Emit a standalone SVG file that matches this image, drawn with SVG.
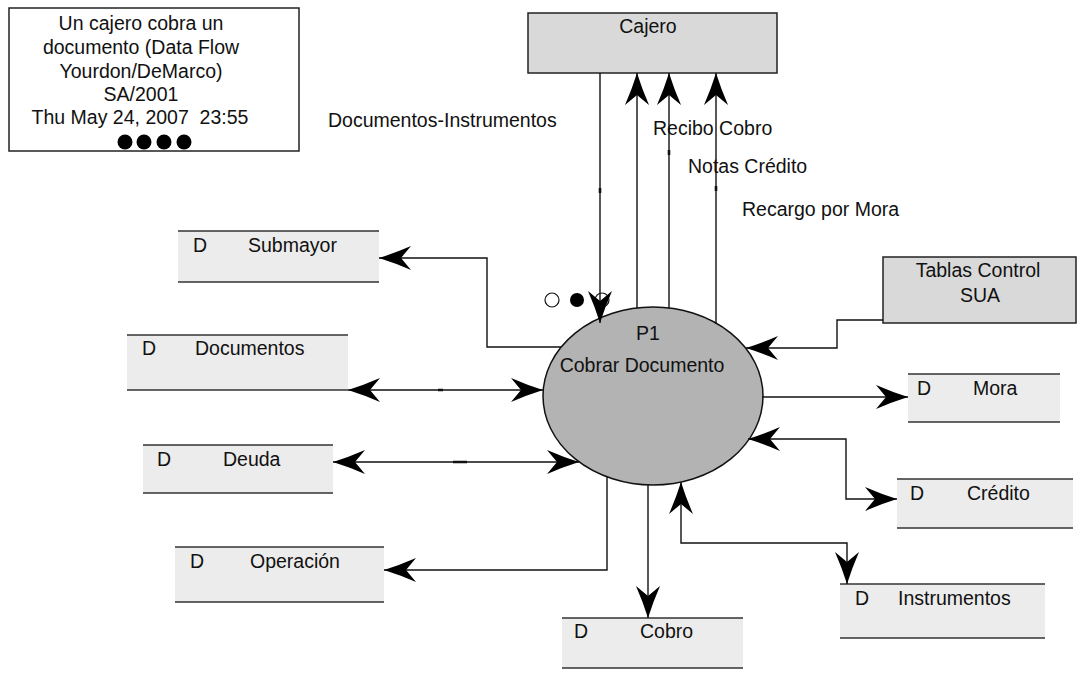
<svg xmlns="http://www.w3.org/2000/svg" width="1081" height="673" viewBox="0 0 1081 673">
  <style>
    text { font-family: "Liberation Sans", Arial, sans-serif; font-size: 19.5px; fill: #111; }
    .title { text-anchor: middle; }
    .mid { text-anchor: middle; }
    .store-fill { fill: #ececec; stroke: none; }
    .store-line { stroke: #333; stroke-width: 1.5; fill: none; }
    .entity { fill: #d9d9d9; stroke: #222; stroke-width: 1.5; }
    .flow { fill: none; stroke: #111; stroke-width: 1.4; marker-end: url(#arrow); }
    .flow2 { fill: none; stroke: #111; stroke-width: 1.4; marker-start: url(#arrow); marker-end: url(#arrow); }
    .tick { stroke: #111; stroke-width: 2.6; }
  </style>
  <defs>
    <marker id="arrow" markerUnits="userSpaceOnUse" viewBox="-34 -13 36 26" refX="0" refY="0" markerWidth="36" markerHeight="26" orient="auto-start-reverse">
      <path d="M0,0 Q-16,-5 -32,-12 L-22,0 L-32,12 Q-16,5 0,0 Z" fill="#000"/>
    </marker>
  </defs>

  <rect width="1081" height="673" fill="#fff"/>

  <!-- title block -->
  <g id="title">
    <rect x="9" y="8" width="290" height="143" fill="#fff" stroke="#222" stroke-width="1.5"/>
    <text class="title" x="141" y="30">Un cajero cobra un</text>
    <text class="title" x="141" y="54">documento (Data Flow</text>
    <text class="title" x="141" y="78">Yourdon/DeMarco)</text>
    <text class="title" x="141" y="101">SA/2001</text>
    <text class="title" x="140" y="124" xml:space="preserve">Thu May 24, 2007  23:55</text>
    <circle cx="125" cy="142" r="7.5" fill="#000"/>
    <circle cx="144" cy="142" r="7.5" fill="#000"/>
    <circle cx="164" cy="142" r="7.5" fill="#000"/>
    <circle cx="184" cy="142" r="7.5" fill="#000"/>
  </g>

  <!-- external entities -->
  <g id="cajero">
    <rect class="entity" x="528" y="13" width="249" height="60"/>
    <text class="mid" x="648" y="33">Cajero</text>
  </g>
  <g id="tablas-control-sua">
    <rect class="entity" x="883" y="257" width="193" height="66"/>
    <text class="mid" x="978" y="277">Tablas Control</text>
    <text class="mid" x="980" y="302">SUA</text>
  </g>

  <!-- process -->
  <g id="p1">
    <ellipse cx="653" cy="396" rx="110" ry="89" fill="#b3b3b3" stroke="#111" stroke-width="1.5"/>
    <text class="mid" x="648" y="340">P1</text>
    <text class="mid" x="642" y="372">Cobrar Documento</text>
    <circle cx="552" cy="300" r="7" fill="#fff" stroke="#111" stroke-width="1.2"/>
    <circle cx="577" cy="300" r="7" fill="#000"/>
    <circle cx="602" cy="300" r="7" fill="#fff" stroke="#111" stroke-width="1.2"/>
  </g>

  <!-- data stores -->
  <g id="store-submayor">
    <rect class="store-fill" x="178" y="231" width="201" height="51"/>
    <path class="store-line" d="M178,231 H379 M178,282 H379"/>
    <text x="193" y="252">D</text>
    <text x="248" y="252">Submayor</text>
  </g>
  <g id="store-documentos">
    <rect class="store-fill" x="127" y="335" width="221" height="55"/>
    <path class="store-line" d="M127,335 H348 M127,390 H348"/>
    <text x="142" y="355">D</text>
    <text x="195" y="355">Documentos</text>
  </g>
  <g id="store-deuda">
    <rect class="store-fill" x="143" y="445" width="190" height="48"/>
    <path class="store-line" d="M143,445 H333 M143,493 H333"/>
    <text x="157" y="466">D</text>
    <text x="223" y="466">Deuda</text>
  </g>
  <g id="store-operacion">
    <rect class="store-fill" x="175" y="547" width="209" height="55"/>
    <path class="store-line" d="M175,547 H384 M175,602 H384"/>
    <text x="190" y="568">D</text>
    <text x="250" y="568">Operación</text>
  </g>
  <g id="store-cobro">
    <rect class="store-fill" x="562" y="618" width="181" height="50"/>
    <path class="store-line" d="M562,618 H743 M562,668 H743"/>
    <text x="574" y="638">D</text>
    <text x="640" y="638">Cobro</text>
  </g>
  <g id="store-instrumentos">
    <rect class="store-fill" x="840" y="584" width="205" height="54"/>
    <path class="store-line" d="M840,584 H1045 M840,638 H1045"/>
    <text x="855" y="605">D</text>
    <text x="898" y="605">Instrumentos</text>
  </g>
  <g id="store-credito">
    <rect class="store-fill" x="897" y="479" width="176" height="49"/>
    <path class="store-line" d="M897,479 H1073 M897,528 H1073"/>
    <text x="910" y="500">D</text>
    <text x="967" y="500">Crédito</text>
  </g>
  <g id="store-mora">
    <rect class="store-fill" x="908" y="374" width="152" height="48"/>
    <path class="store-line" d="M908,374 H1060 M908,422 H1060"/>
    <text x="917" y="395">D</text>
    <text x="973" y="395">Mora</text>
  </g>

  <!-- data flows -->
  <g id="connectors">
    <path class="flow" d="M600,73 V323"/>
    <path class="flow" d="M637,308 V73"/>
    <path class="flow" d="M669,308 V73"/>
    <path class="flow" d="M716,324 V73"/>
    <path class="flow" d="M561,347 H487 V258 H379"/>
    <path class="flow2" d="M348,390 H543"/>
    <path class="flow2" d="M333,462 H579"/>
    <path class="flow" d="M607,477 V570 H384"/>
    <path class="flow" d="M648,485 V618"/>
    <path class="flow2" d="M681,482 V543 H847 V584"/>
    <path class="flow2" d="M748,439 H846 V499 H897"/>
    <path class="flow" d="M762,397 H908"/>
    <path class="flow" d="M883,320 H837 V348 H746"/>
    <path class="tick" d="M600,188 V193 M669,150 V155 M716,186 V191 M438,390 H443 M453,462 H467"/>
    <text x="328" y="127">Documentos-Instrumentos</text>
    <text x="653" y="135">Recibo Cobro</text>
    <text x="688" y="173">Notas Crédito</text>
    <text x="742" y="216">Recargo por Mora</text>
  </g>
</svg>
